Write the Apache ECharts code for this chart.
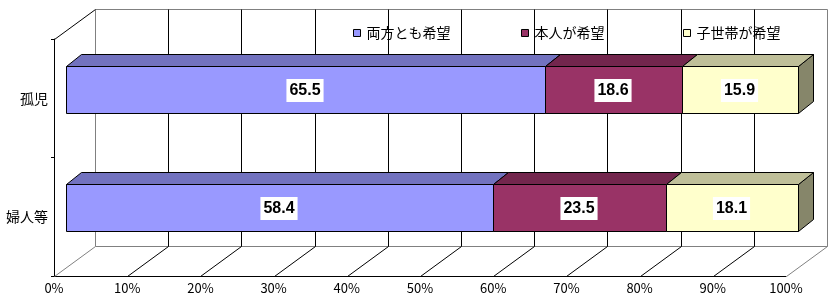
<!DOCTYPE html>
<html><head><meta charset="utf-8">
<script src="https://cdn.jsdelivr.net/npm/echarts@6/dist/echarts.min.js"></script>
<style>html,body{margin:0;padding:0;background:#fff}#c{width:835px;height:301px}</style>
</head><body><div id="c"></div>
<script>
// ---- data ----
const categories = ['孤児', '婦人等'];
const seriesNames = ['両方とも希望', '本人が希望', '子世帯が希望'];
const bothWish = [65.5, 58.4];
const selfWish = [18.6, 23.5];
const childWish = [15.9, 18.1];
const xTicks = [0, 10, 20, 30, 40, 50, 60, 70, 80, 90, 100];

// ---- styling ----
const COLORS = [
  { front: '#9999FF', top: '#7272BF', side: '#5C5C99' },
  { front: '#993366', top: '#73264D', side: '#5C1F3D' },
  { front: '#FFFFCC', top: '#BFBF99', side: '#86866A' }
];
const WALL_DX = 41, WALL_DY = -30;
const FRONT_DX = 12, FRONT_DY = -9;
const BAR_DX = 15, BAR_DY = -12;
const BAR_RATIO = 0.4;
const GRAY = '#808080';
const JP = '"Noto Sans CJK JP", "Noto Sans", sans-serif';

const valueSets = [bothWish, selfWish, childWish];
const cumulative = categories.map(() => 0);
const segData = valueSets.map(vals => vals.map((v, i) => {
  const s = cumulative[i];
  cumulative[i] = s + v;
  return [i, s, s + v, v];
}));

const px = v => Math.round(v) + 0.5;

function renderWalls(params, api) {
  const cs = params.coordSys;
  const top = cs.y, bottom = cs.y + cs.height;
  const xs = xTicks.map(t => api.coord([t, 0])[0]);
  const last = xs.length - 1;
  const ch = [];
  const line = (x1, y1, x2, y2, c) => ch.push({ type: 'line', shape: { x1: px(x1), y1: px(y1), x2: px(x2), y2: px(y2) }, style: { stroke: c, lineWidth: 1 } });
  line(xs[0] + WALL_DX, top + WALL_DY, xs[last] + WALL_DX, top + WALL_DY, GRAY);
  line(xs[0] + WALL_DX, bottom + WALL_DY, xs[last] + WALL_DX, bottom + WALL_DY, GRAY);
  xs.forEach((x, i) => {
    const c = (i === 0 || i === last) ? GRAY : '#000';
    line(x + WALL_DX, top + WALL_DY, x + WALL_DX, bottom + WALL_DY, c);
    line(x, bottom, x + WALL_DX, bottom + WALL_DY, c);
  });
  line(xs[0], top, xs[0] + WALL_DX, top + WALL_DY, '#000');
  return { type: 'group', children: ch };
}

function renderBar(params, api) {
  const cat = api.value(0), s = api.value(1), e = api.value(2), v = api.value(3);
  const a = api.coord([s, cat]), b = api.coord([e, cat]);
  const band = api.size([0, 1])[1];
  const h = band * BAR_RATIO;
  const xl = px(a[0] + FRONT_DX), xr = px(b[0] + FRONT_DX);
  const yt = px(a[1] + FRONT_DY - h / 2), yb = px(a[1] + FRONT_DY + h / 2);
  const col = COLORS[params.seriesIndex - 1];
  const st = f => ({ fill: f, stroke: '#000', lineWidth: 1 });
  return { type: 'group', children: [
    { type: 'polygon', shape: { points: [[xr, yt], [xr + BAR_DX, yt + BAR_DY], [xr + BAR_DX, yb + BAR_DY], [xr, yb]] }, style: st(col.side) },
    { type: 'polygon', shape: { points: [[xl, yt], [xl + BAR_DX, yt + BAR_DY], [xr + BAR_DX, yt + BAR_DY], [xr, yt]] }, style: st(col.top) },
    { type: 'rect', shape: { x: xl, y: yt, width: xr - xl, height: yb - yt }, style: st(col.front) },
    { type: 'text', x: (xl + xr) / 2 - 1, y: (yt + yb) / 2 + 0.5, z2: 10, style: {
      text: v.toFixed(1), align: 'center', verticalAlign: 'middle',
      font: 'bold 16px "Liberation Sans", Arial, sans-serif', fill: '#000',
      backgroundColor: '#fff', padding: [4, 3, 3, 3] } }
  ] };
}

const legendLefts = [353, 521, 683];
const chart = echarts.init(document.getElementById('c'), null, { renderer: 'canvas' });
chart.setOption({
  animation: false,
  grid: { left: 54, right: 49, top: 39, bottom: 25, containLabel: false },
  xAxis: {
    type: 'value', min: 0, max: 100, interval: 10,
    axisLine: { show: true, lineStyle: { color: '#000', width: 1 } },
    axisTick: { show: false }, splitLine: { show: false },
    axisLabel: { formatter: '{value}%', color: '#000', fontSize: 13, fontFamily: JP, margin: 6 }
  },
  yAxis: {
    type: 'category', data: categories, inverse: true,
    axisLine: { show: true, lineStyle: { color: '#000', width: 1 } },
    axisTick: { show: true, length: 3, lineStyle: { color: '#000' } },
    axisLabel: { color: '#000', fontSize: 14, fontFamily: JP, margin: 6 }
  },
  legend: seriesNames.map((n, k) => ({
    left: legendLefts[k], top: 26, padding: 0, itemWidth: 7, itemHeight: 7, selectedMode: false,
    textStyle: { fontSize: 14, color: '#000', fontFamily: JP, padding: [0, 0, 0, 1] },
    data: [{ name: n, icon: 'rect', itemStyle: { color: COLORS[k].front, borderColor: '#000', borderWidth: 1 } }]
  })),
  series: [
    { type: 'custom', name: 'walls', renderItem: renderWalls, data: [[0, 0]], silent: true },
    ...seriesNames.map((n, k) => ({
      type: 'custom', name: n, renderItem: renderBar, data: segData[k],
      encode: { x: [1, 2], y: 0 }, itemStyle: { color: COLORS[k].front }
    }))
  ]
});
</script></body></html>
